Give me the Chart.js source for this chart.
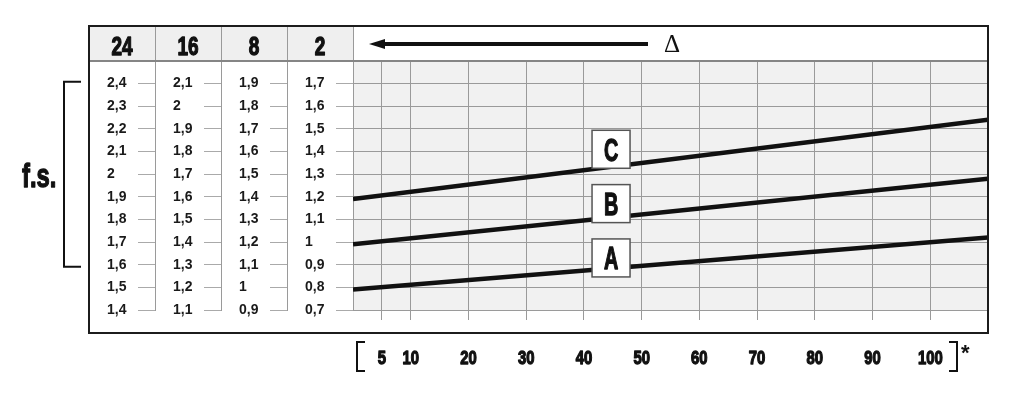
<!DOCTYPE html>
<html>
<head>
<meta charset="utf-8">
<script src="https://cdn.jsdelivr.net/npm/chart.js@4/dist/chart.umd.min.js"></script>
<style>
  html, body { margin: 0; padding: 0; background: #fff; }
  canvas { display: block; }
</style>
</head>
<body>
<canvas id="chart" width="1023" height="399"></canvas>
<script>
// values (y in units of the "2" column)
const xPoints = [0, 110];
const lineA = [0.79, 1.02];
const lineB = [0.99, 1.28];
const lineC = [1.19, 1.54];
const xTicks = [5, 10, 20, 30, 40, 50, 60, 70, 80, 90, 100];

// f.s. scales, one column per delta
const ticks24 = [2.4, 2.3, 2.2, 2.1, 2, 1.9, 1.8, 1.7, 1.6, 1.5, 1.4];
const ticks16 = [2.1, 2, 1.9, 1.8, 1.7, 1.6, 1.5, 1.4, 1.3, 1.2, 1.1];
const ticks8 = [1.9, 1.8, 1.7, 1.6, 1.5, 1.4, 1.3, 1.2, 1.1, 1, 0.9];
const ticks2 = [1.7, 1.6, 1.5, 1.4, 1.3, 1.2, 1.1, 1, 0.9, 0.8, 0.7];
const deltaHeads = ['24', '16', '8', '2'];

// curve tags
const tagNames = ['A', 'B', 'C'];
const tagX = 44.7;
const tagY = [0.93, 1.17, 1.41];

const SANS = '"Liberation Sans", Arial, sans-serif';
const COL_W = 66;
const HEAD_TOP = 26;
const GRID = '#9a9a9a';

// no condensed face installed, so squeeze a bold sans horizontally
// and thicken it a little with a stroke
function squeezed(ctx, text, x, y, size, sx, align) {
  ctx.save();
  ctx.translate(x, y);
  ctx.scale(sx, 1);
  ctx.font = 'bold ' + size + 'px ' + SANS;
  ctx.textAlign = align || 'center';
  ctx.textBaseline = 'alphabetic';
  ctx.fillStyle = '#111';
  ctx.strokeStyle = '#111';
  ctx.lineWidth = 1.3;
  ctx.lineJoin = 'round';
  ctx.fillText(text, 0, 0);
  ctx.strokeText(text, 0, 0);
  ctx.restore();
}

function fsAxis(ticks, weight, onArea) {
  const lo = ticks[ticks.length - 1];
  return {
    type: 'linear',
    axis: 'y',
    position: 'left',
    weight: weight,
    min: lo,
    max: lo + 1.1,
    afterBuildTicks: s => { s.ticks = ticks.map(v => ({ value: v })); },
    afterFit: s => { s.width = COL_W; },
    grid: { drawOnChartArea: onArea, color: GRID, tickColor: '#aaaaaa', tickLength: 17, lineWidth: 1 },
    border: { display: true, color: GRID, width: 1 },
    ticks: {
      crossAlign: 'far',
      color: '#1a1a1a',
      font: { family: SANS, size: 14, weight: 'bold' },
      callback: v => String(v).replace('.', ',')
    }
  };
}

const sheet = {
  id: 'sheet',
  afterLayout(chart) {
    // shift the label column in from the left edge of each f.s. column
    ['y24', 'y16', 'y8', 'y2'].forEach(id => { chart.scales[id].left += 18; });
  },
  beforeDraw(chart) {
    const { ctx, chartArea: a } = chart;
    ctx.save();
    ctx.fillStyle = '#fff';
    ctx.fillRect(0, 0, chart.width, chart.height);
    ctx.fillStyle = '#f1f1f1';
    ctx.fillRect(a.left, a.top, a.right - a.left, a.bottom - a.top);
    ctx.restore();
  },
  afterDraw(chart) {
    const { ctx, chartArea: a, scales } = chart;
    const cols = ['y24', 'y16', 'y8', 'y2'].map(id => scales[id]);
    const frameL = cols[0].right - COL_W;
    const frameB = a.bottom + 23;
    ctx.save();

    // header cells
    ctx.fillStyle = '#efefef';
    ctx.fillRect(frameL, HEAD_TOP, a.left - frameL, a.top - HEAD_TOP);
    ctx.strokeStyle = GRID;
    ctx.lineWidth = 1;
    cols.forEach(s => {
      const x = Math.round(s.right) + 0.5;
      ctx.beginPath();
      ctx.moveTo(x, HEAD_TOP);
      ctx.lineTo(x, a.top);
      ctx.stroke();
    });
    cols.forEach((s, i) => {
      squeezed(ctx, deltaHeads[i], s.right - COL_W / 2, 55, 25, 0.76);
    });

    // header bottom rule
    ctx.strokeStyle = '#858585';
    ctx.lineWidth = 2;
    ctx.beginPath();
    ctx.moveTo(frameL, a.top);
    ctx.lineTo(a.right, a.top);
    ctx.stroke();

    // arrow and delta
    const ay = 44;
    ctx.strokeStyle = '#111';
    ctx.lineWidth = 4;
    ctx.beginPath();
    ctx.moveTo(380, ay);
    ctx.lineTo(648, ay);
    ctx.stroke();
    ctx.fillStyle = '#111';
    ctx.beginPath();
    ctx.moveTo(369, ay);
    ctx.lineTo(385, ay - 5);
    ctx.lineTo(385, ay + 5);
    ctx.closePath();
    ctx.fill();
    ctx.font = '25px "Liberation Serif", "DejaVu Serif", serif';
    ctx.textAlign = 'center';
    ctx.textBaseline = 'middle';
    ctx.fillText('\u0394', 672, ay + 1);

    // outer frame
    ctx.strokeStyle = '#1c1c1c';
    ctx.lineWidth = 2;
    ctx.strokeRect(frameL, HEAD_TOP, a.right - frameL, frameB - HEAD_TOP);

    // x tick labels
    const xs = scales.x, ys = scales.y2;
    xs.ticks.forEach(t => {
      squeezed(ctx, String(t.value), xs.getPixelForValue(t.value), 364, 19, 0.78);
    });

    // curve tags
    tagNames.forEach((t, i) => {
      const cx = xs.getPixelForValue(tagX);
      const cy = ys.getPixelForValue(tagY[i]);
      ctx.fillStyle = '#fff';
      ctx.fillRect(cx - 19, cy - 19, 38, 38);
      ctx.strokeStyle = '#555';
      ctx.lineWidth = 1.5;
      ctx.strokeRect(cx - 19, cy - 19, 38, 38);
      squeezed(ctx, t, cx, cy + 11.5, 31, 0.64);
    });

    // f.s. with bracket
    const y24 = scales.y24;
    const bt = y24.getPixelForValue(2.4) - 2;
    const bb = y24.getPixelForValue(1.6) + 2;
    ctx.strokeStyle = '#111';
    ctx.lineWidth = 2;
    ctx.beginPath();
    ctx.moveTo(81, bt);
    ctx.lineTo(64, bt);
    ctx.lineTo(64, bb);
    ctx.lineTo(81, bb);
    ctx.stroke();
    squeezed(ctx, 'f.s.', 22, 187, 34, 0.7, 'left');

    // brackets round the x labels
    ctx.strokeStyle = '#111';
    ctx.lineWidth = 2;
    ctx.beginPath();
    ctx.moveTo(365, 342);
    ctx.lineTo(357, 342);
    ctx.lineTo(357, 371);
    ctx.lineTo(365, 371);
    ctx.moveTo(949, 342);
    ctx.lineTo(957, 342);
    ctx.lineTo(957, 371);
    ctx.lineTo(949, 371);
    ctx.stroke();
    ctx.fillStyle = '#111';
    ctx.font = 'bold 22px ' + SANS;
    ctx.textAlign = 'left';
    ctx.textBaseline = 'alphabetic';
    ctx.fillText('*', 961, 360);

    ctx.restore();
  }
};

const toPoints = ys => ys.map((y, i) => ({ x: xPoints[i], y: y }));
const lineStyle = { borderColor: '#111', borderWidth: 4.5, pointRadius: 0, fill: false, yAxisID: 'y2' };

new Chart(document.getElementById('chart'), {
  type: 'line',
  data: {
    datasets: [
      Object.assign({ label: 'A', data: toPoints(lineA) }, lineStyle),
      Object.assign({ label: 'B', data: toPoints(lineB) }, lineStyle),
      Object.assign({ label: 'C', data: toPoints(lineC) }, lineStyle)
    ]
  },
  options: {
    responsive: false,
    animation: false,
    devicePixelRatio: 1,
    layout: { padding: { left: 89, top: 61, right: 35, bottom: 0 } },
    plugins: { legend: { display: false }, tooltip: { enabled: false } },
    scales: {
      x: {
        type: 'linear',
        min: 0,
        max: 110,
        afterBuildTicks: s => { s.ticks = xTicks.map(v => ({ value: v })); },
        afterFit: s => { s.height = 89; },
        grid: { color: GRID, tickColor: GRID, tickLength: 10, lineWidth: 1 },
        border: { display: false },
        // labels are drawn squeezed by the sheet plugin
        ticks: { display: false }
      },
      y24: fsAxis(ticks24, 3, false),
      y16: fsAxis(ticks16, 2, false),
      y8: fsAxis(ticks8, 1, false),
      y2: fsAxis(ticks2, 0, true)
    }
  },
  plugins: [sheet]
});
</script>
</body>
</html>
